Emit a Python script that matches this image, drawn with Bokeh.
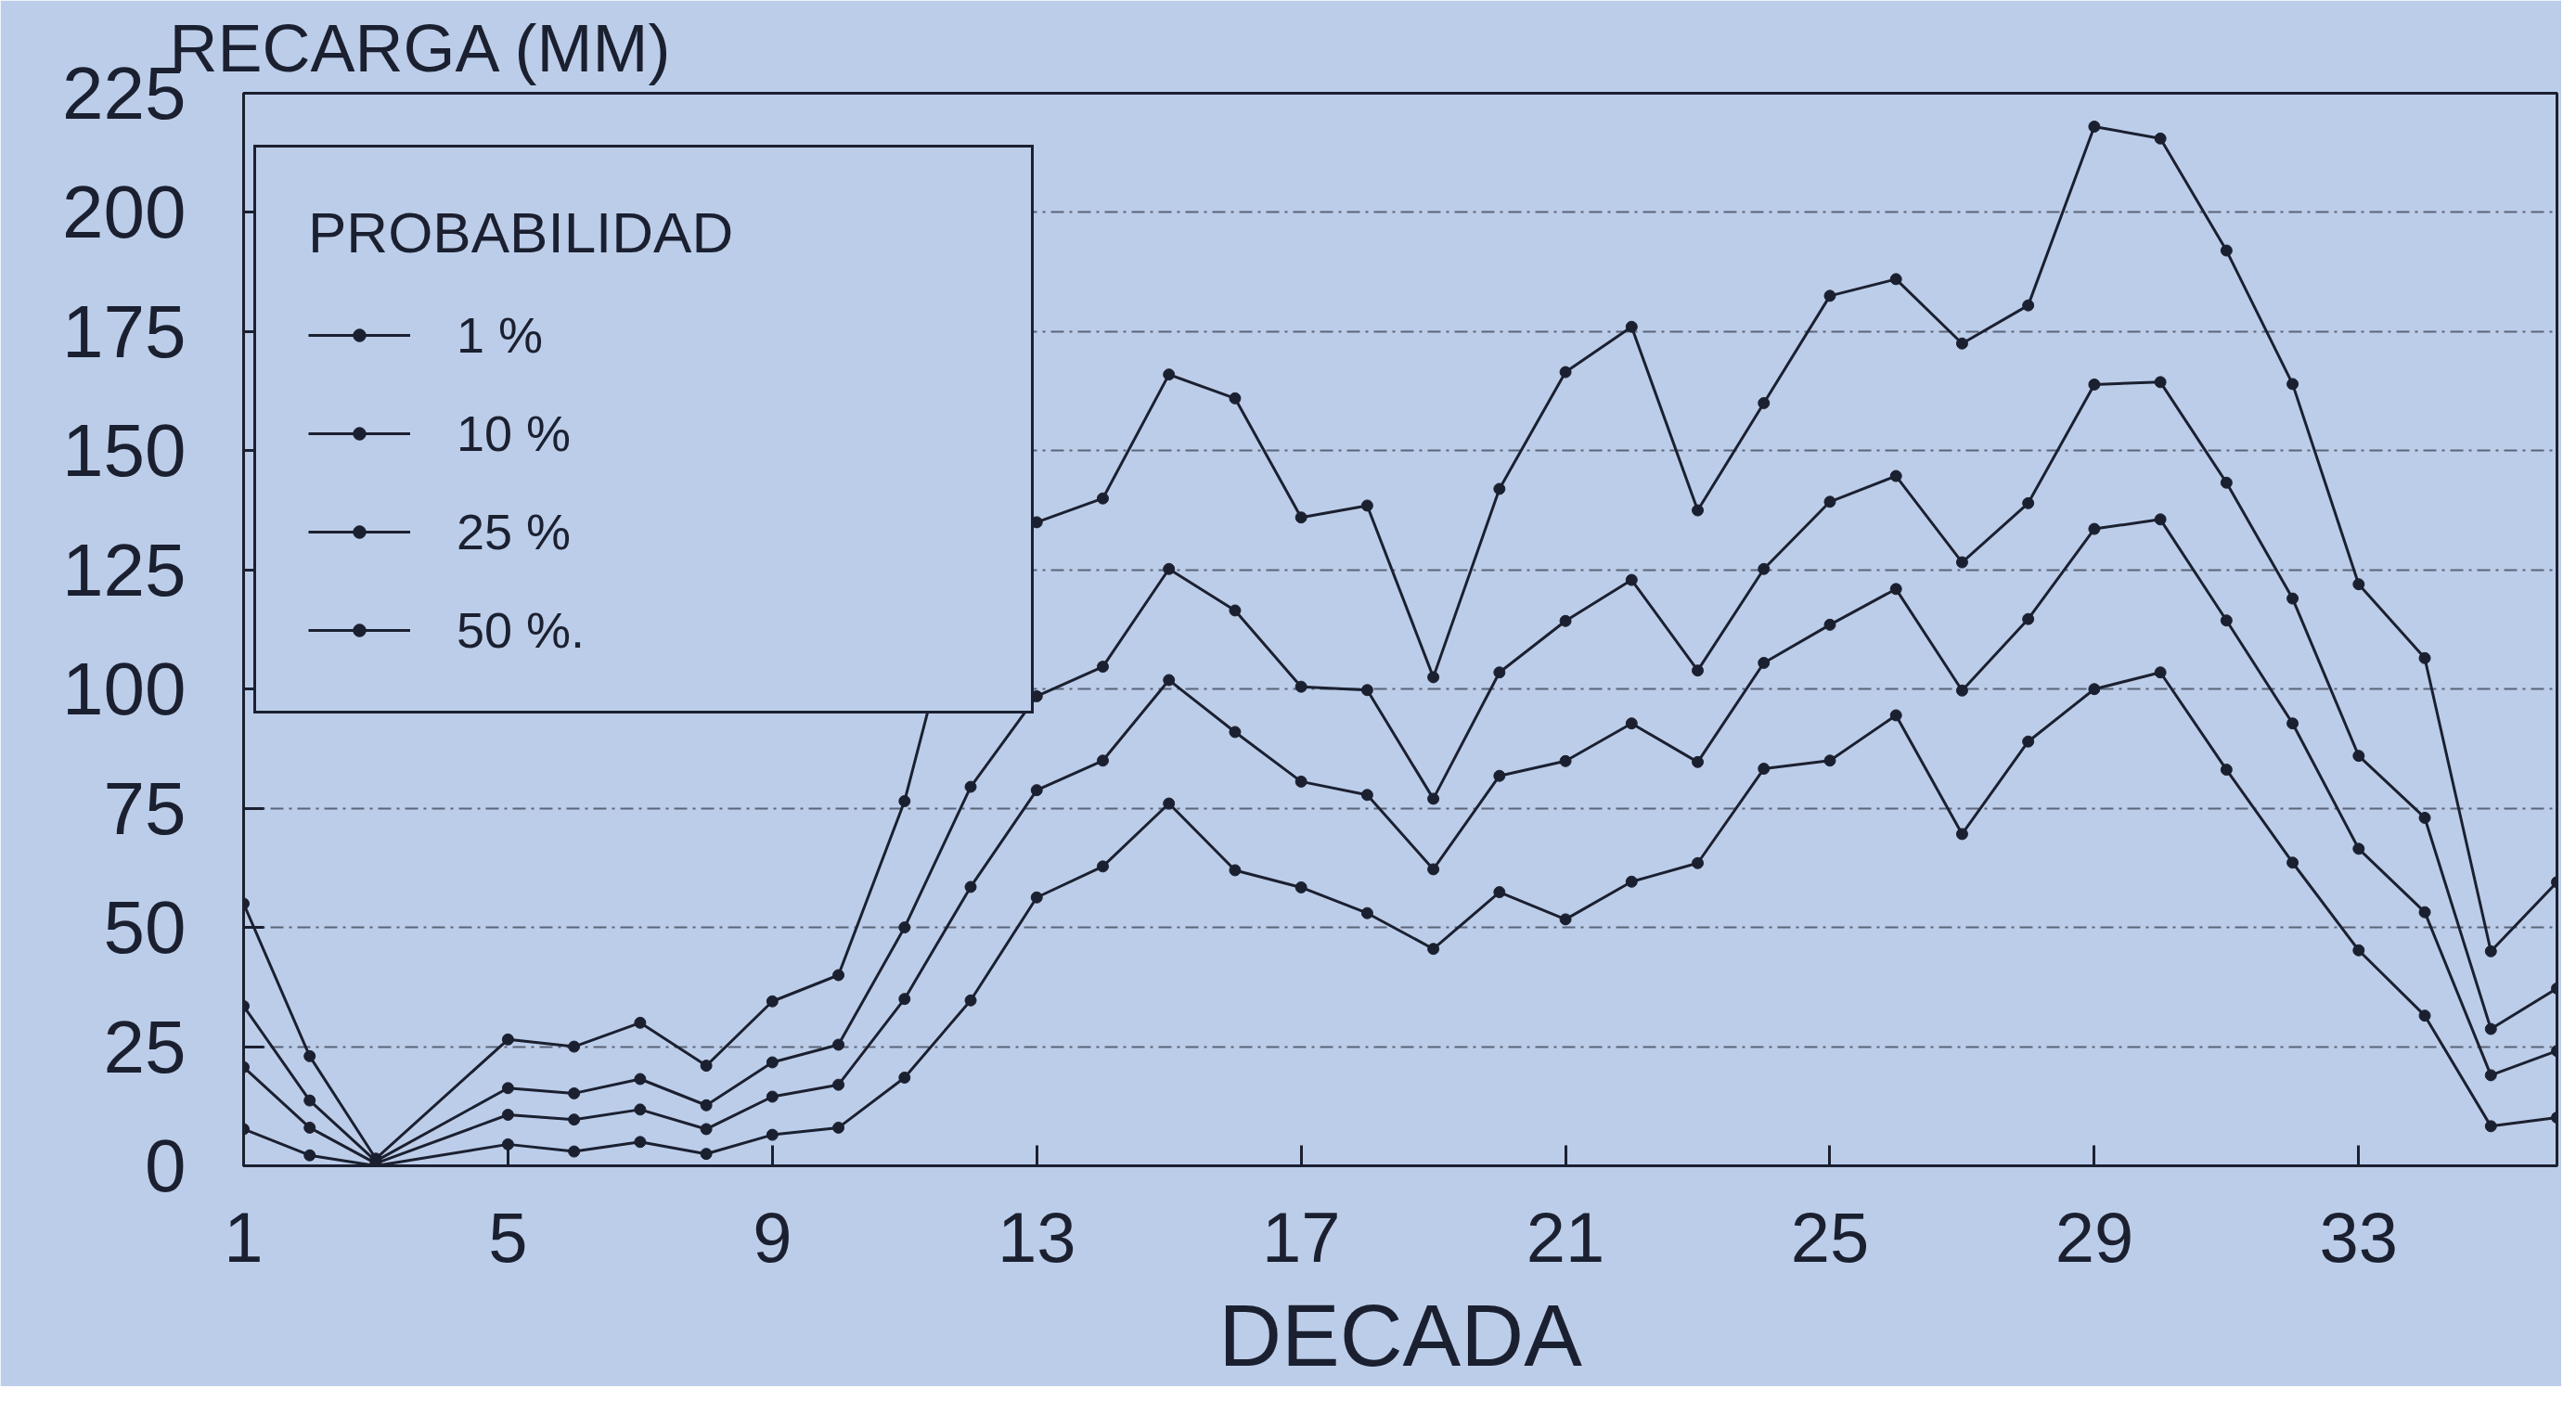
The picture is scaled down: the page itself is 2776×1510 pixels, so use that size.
from bokeh.plotting import figure
from bokeh.models import Legend, LegendItem, FixedTicker, Range1d
from bokeh.embed import file_html
from bokeh.resources import INLINE

# ---- data ----
decadas = [1, 2, 3, 5, 6, 7, 8, 9, 10, 11, 12, 13, 14, 15, 16, 17, 18, 19, 20,
           21, 22, 23, 24, 25, 26, 27, 28, 29, 30, 31, 32, 33, 34, 35, 36]

prob_1 = [55, 23, 1.5, 26.5, 25, 30, 21, 34.5, 40, 76.5, 130, 135, 140, 166, 161,
          136, 138.5, 102.5, 142, 166.5, 176, 137.5, 160, 182.5, 186, 172.5, 180.5,
          218, 215.5, 192, 164, 122, 106.5, 45, 59.5]

prob_10 = [33.5, 13.7, 1, 16.3, 15.2, 18.2, 12.7, 21.7, 25.4, 50, 79.5, 98.5, 104.7,
           125.2, 116.5, 100.5, 99.8, 77, 103.5, 114.3, 122.9, 103.9, 125.2, 139.3,
           144.7, 126.6, 139, 163.9, 164.4, 143.3, 119, 86, 73, 28.7, 37.2]

prob_25 = [20.7, 8, 0.5, 10.7, 9.7, 11.8, 7.7, 14.5, 17, 35, 58.5, 78.8, 85, 101.9,
           91, 80.6, 77.8, 62.2, 81.8, 84.9, 92.8, 84.7, 105.5, 113.5, 121, 99.7,
           114.7, 133.6, 135.6, 114.4, 92.8, 66.5, 53.2, 19, 24.1]

prob_50 = [7.7, 2.2, 0, 4.5, 3, 5, 2.5, 6.5, 8, 18.5, 34.7, 56.3, 62.8, 76, 62, 58.4,
           53, 45.5, 57.4, 51.7, 59.6, 63.5, 83.3, 85, 94.5, 69.6, 89, 100, 103.5,
           83.1, 63.6, 45.2, 31.5, 8.3, 10.1]

series_labels = ["1 %", "10 %", "25 %", "50 %."]
x_ticks = [1, 5, 9, 13, 17, 21, 25, 29, 33]
y_ticks = [0, 25, 50, 75, 100, 125, 150, 175, 200, 225]

# ---- style ----
BG = "#bccde9"
INK = "#1b2030"
FONT = "Liberation Sans"

W, H = 2760, 1494
p = figure(width=W, height=H, x_range=Range1d(1, 36), y_range=Range1d(0, 225),
           output_backend="svg", toolbar_location=None,
           min_border_left=262, min_border_right=5,
           min_border_top=94, min_border_bottom=230,
           title="RECARGA (MM)")

p.title.text_font = FONT
p.title.text_font_size = "72px"
p.title.text_font_style = "normal"
p.title.text_color = INK
p.title.align = "left"
p.title.offset = -80
p.title.standoff = 18

p.background_fill_color = BG
p.border_fill_color = BG
p.outline_line_color = INK
p.outline_line_width = 3
p.outline_line_alpha = 1

p.xgrid.visible = False
p.ygrid.grid_line_color = INK
p.ygrid.grid_line_alpha = 0.6
p.ygrid.grid_line_width = 2
p.ygrid.grid_line_dash = "14 6 3 6"
p.ygrid.ticker = FixedTicker(ticks=y_ticks[1:-1])

p.xaxis.ticker = FixedTicker(ticks=x_ticks)
p.yaxis.ticker = FixedTicker(ticks=y_ticks)
for ax in (p.xaxis, p.yaxis):
    ax.axis_line_color = INK
    ax.axis_line_width = 3
    ax.major_tick_line_color = INK
    ax.major_tick_line_width = 3
    ax.major_tick_in = 22
    ax.major_tick_out = 0
    ax.minor_tick_line_color = None
    ax.major_label_text_font = FONT
    ax.major_label_text_color = INK
    ax.axis_label_text_font = FONT
    ax.axis_label_text_color = INK
    ax.axis_label_text_font_style = "normal"

p.xaxis.major_label_text_font_size = "76px"
p.yaxis.major_label_text_font_size = "80px"
p.xaxis.major_label_standoff = 50
p.yaxis.major_label_standoff = 62
p.xaxis.axis_label = "DECADA"
p.xaxis.axis_label_text_font_size = "94px"
p.xaxis.axis_label_standoff = 24

# ---- series ----
items = []
for vals, lab in zip([prob_1, prob_10, prob_25, prob_50], series_labels):
    ln = p.line(decadas, vals, line_color=INK, line_width=3)
    sc = p.scatter(decadas, vals, marker="circle", size=12, fill_color=INK,
                   line_color=INK)
    items.append(LegendItem(label=lab, renderers=[ln, sc]))

legend = Legend(items=items, location=(11, 487), title="PROBABILIDAD")
legend.border_line_color = INK
legend.border_line_width = 3
legend.border_line_alpha = 1
legend.background_fill_color = BG
legend.background_fill_alpha = 1
legend.padding = 56
legend.spacing = 44
legend.glyph_width = 110
legend.glyph_height = 34
legend.label_height = 60
legend.label_width = 563
legend.label_standoff = 50
legend.title_text_font = FONT
legend.title_text_font_size = "62px"
legend.title_text_font_style = "normal"
legend.title_text_color = INK
legend.title_standoff = 44
legend.label_text_font = FONT
legend.label_text_font_size = "54px"
legend.label_text_color = INK
p.add_layout(legend)

open("out.html", "w").write(file_html(p, INLINE))
